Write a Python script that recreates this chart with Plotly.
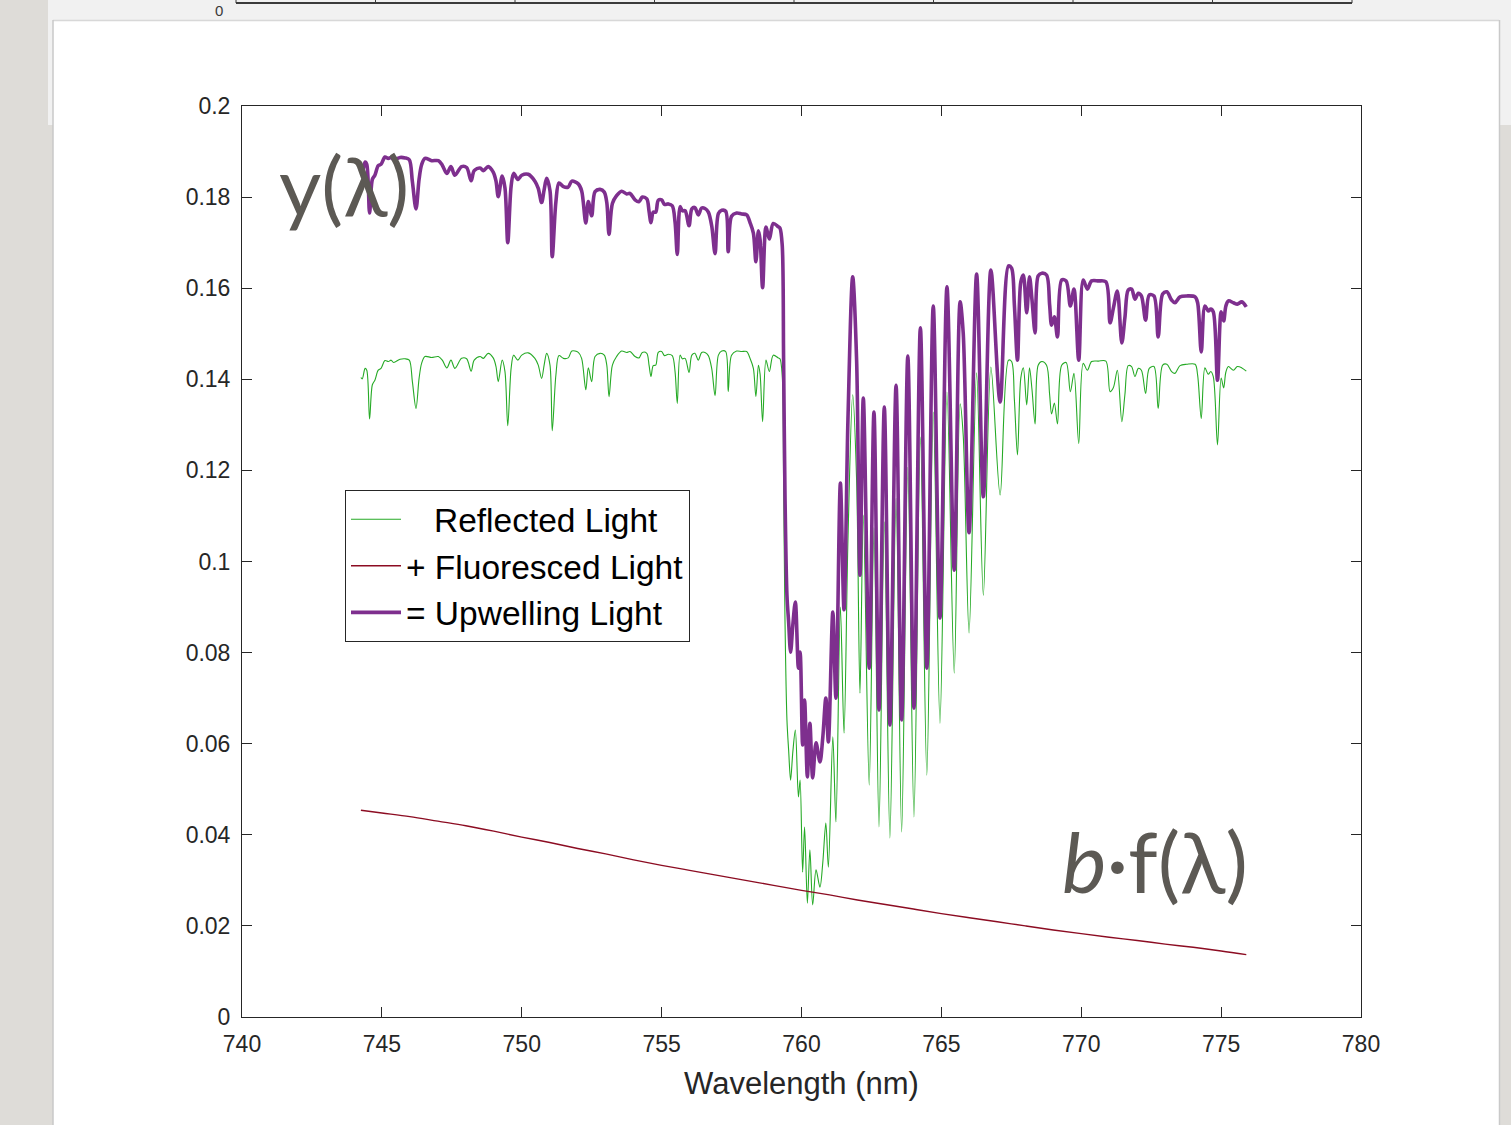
import plotly.graph_objects as go

# ---------------- data ----------------
wavelength_nm = [
    744.25, 744.30, 744.40, 744.46, 744.56, 744.66, 744.75, 744.87, 744.97, 745.11,
    745.23, 745.33, 745.42, 745.65, 745.83, 745.98, 746.09, 746.22, 746.33, 746.42,
    746.54, 746.78, 747.02, 747.16, 747.32, 747.47, 747.61, 747.85, 748.03, 748.19,
    748.30, 748.51, 748.63, 748.80, 748.98, 749.08, 749.16, 749.30, 749.40, 749.50,
    749.62, 749.71, 749.86, 750.00, 750.23, 750.47, 750.59, 750.71, 750.80, 750.89,
    751.01, 751.09, 751.22, 751.33, 751.49, 751.66, 751.79, 752.02, 752.14, 752.29,
    752.38, 752.50, 752.62, 752.80, 752.95, 753.04, 753.12, 753.24, 753.39, 753.57,
    753.75, 753.87, 754.05, 754.19, 754.31, 754.47, 754.55, 754.62, 754.70, 754.79,
    754.88, 755.00, 755.10, 755.24, 755.38, 755.48, 755.56, 755.66, 755.74, 755.84,
    755.98, 756.08, 756.19, 756.31, 756.43, 756.55, 756.67, 756.79, 756.91, 757.03,
    757.15, 757.29, 757.38, 757.50, 757.68, 757.86, 758.04, 758.16, 758.28, 758.37,
    758.46, 758.52, 758.61, 758.73, 758.85, 758.99, 759.17, 759.23,
    759.31, 759.36, 759.41, 759.48, 759.54, 759.61, 759.69, 759.78, 759.89, 759.95,
    760.04, 760.11, 760.21, 760.30, 760.40, 760.52, 760.66, 760.76, 760.87, 760.96,
    761.12, 761.23, 761.39, 761.52, 761.66, 761.83, 761.97, 762.09, 762.21, 762.42,
    762.59, 762.77, 762.96, 763.16, 763.38, 763.58, 763.80, 764.02, 764.25, 764.48,
    764.71, 764.95, 765.20, 765.46, 765.67, 765.78, 765.99, 766.26, 766.50, 766.77,
    767.10, 767.40,
    767.51, 767.61, 767.72, 767.84, 767.93, 768.05, 768.15, 768.24, 768.35, 768.46,
    768.59, 768.76, 768.87, 768.94, 769.04, 769.15, 769.30, 769.46, 769.61, 769.74,
    769.91, 770.07, 770.22, 770.37, 770.61, 770.88, 771.03, 771.15, 771.29, 771.45,
    771.56, 771.68, 771.80, 771.92, 772.04, 772.15, 772.30, 772.43, 772.60, 772.75,
    772.91, 773.06, 773.23, 773.35, 773.53, 773.77, 774.07, 774.16, 774.29, 774.42,
    774.54, 774.63, 774.72, 774.87, 775.00, 775.09, 775.17, 775.26, 775.44, 775.58,
    775.74, 775.90,
]

reflected = [
    0.1404, 0.1401, 0.1424, 0.1420, 0.1313, 0.1388, 0.1398, 0.1420, 0.1424, 0.1441,
    0.1439, 0.1442, 0.1437, 0.1444, 0.1445, 0.1442, 0.1395, 0.1336, 0.1402, 0.1435,
    0.1450, 0.1448, 0.1450, 0.1442, 0.1425, 0.1442, 0.1424, 0.1446, 0.1445, 0.1418,
    0.1442, 0.1450, 0.1446, 0.1457, 0.1447, 0.1428, 0.1395, 0.1442, 0.1417, 0.1298,
    0.1424, 0.1453, 0.1442, 0.1453, 0.1458, 0.1446, 0.1431, 0.1402, 0.1431, 0.1457,
    0.1431, 0.1287, 0.1409, 0.1452, 0.1446, 0.1447, 0.1462, 0.1459, 0.1446, 0.1377,
    0.1425, 0.1395, 0.1450, 0.1457, 0.1453, 0.1431, 0.1362, 0.1431, 0.1450, 0.1462,
    0.1459, 0.1461, 0.1450, 0.1447, 0.1459, 0.1457, 0.1431, 0.1406, 0.1430, 0.1431,
    0.1459, 0.1461, 0.1452, 0.1455, 0.1452, 0.1417, 0.1347, 0.1453, 0.1445, 0.1446,
    0.1415, 0.1453, 0.1457, 0.1442, 0.1459, 0.1459, 0.1452, 0.1424, 0.1364, 0.1453,
    0.1462, 0.1461, 0.1373, 0.1453, 0.1462, 0.1461, 0.1461, 0.1446, 0.1424, 0.1362,
    0.1431, 0.1411, 0.1307, 0.1442, 0.1417, 0.1453, 0.1447, 0.1445,
    0.1409, 0.1179, 0.0872, 0.0652, 0.0586, 0.0520, 0.0582, 0.0630, 0.0483, 0.0520,
    0.0318, 0.0417, 0.0250, 0.0367, 0.0246, 0.0323, 0.0285, 0.0338, 0.0426, 0.0329,
    0.0615, 0.0428, 0.0900, 0.0623, 0.1047, 0.1366, 0.1179, 0.0711, 0.1102, 0.0509,
    0.1074, 0.0417, 0.1087, 0.0393, 0.1139, 0.0406, 0.1207, 0.0439, 0.1273, 0.0531,
    0.1328, 0.0645, 0.1372, 0.0755, 0.1346, 0.1278, 0.0843, 0.1414, 0.0926, 0.1427,
    0.1146, 0.1442,
    0.1439, 0.1355, 0.1234, 0.1403, 0.1425, 0.1344, 0.1425, 0.1377, 0.1302, 0.1431,
    0.1439, 0.1431, 0.1366, 0.1324, 0.1348, 0.1302, 0.1431, 0.1437, 0.1373, 0.1413,
    0.1259, 0.1435, 0.1420, 0.1439, 0.1440, 0.1440, 0.1373, 0.1382, 0.1420, 0.1307,
    0.1366, 0.1430, 0.1428, 0.1406, 0.1424, 0.1420, 0.1369, 0.1424, 0.1428, 0.1336,
    0.1431, 0.1433, 0.1417, 0.1413, 0.1430, 0.1433, 0.1433, 0.1409, 0.1314, 0.1425,
    0.1411, 0.1417, 0.1406, 0.1256, 0.1403, 0.1381, 0.1416, 0.1428, 0.1420, 0.1428,
    0.1425, 0.1418,
]

upwelling = [
    0.1858, 0.1855, 0.1877, 0.1872, 0.1765, 0.1839, 0.1848, 0.1869, 0.1872, 0.1888,
    0.1885, 0.1887, 0.1882, 0.1887, 0.1886, 0.1882, 0.1834, 0.1774, 0.1839, 0.1871,
    0.1885, 0.1880, 0.1880, 0.1870, 0.1852, 0.1867, 0.1848, 0.1867, 0.1865, 0.1836,
    0.1858, 0.1864, 0.1858, 0.1867, 0.1855, 0.1835, 0.1801, 0.1846, 0.1820, 0.1700,
    0.1824, 0.1852, 0.1839, 0.1848, 0.1850, 0.1835, 0.1819, 0.1788, 0.1816, 0.1841,
    0.1814, 0.1669, 0.1789, 0.1831, 0.1823, 0.1822, 0.1835, 0.1829, 0.1814, 0.1743,
    0.1790, 0.1759, 0.1812, 0.1817, 0.1811, 0.1788, 0.1718, 0.1786, 0.1803, 0.1813,
    0.1807, 0.1808, 0.1794, 0.1790, 0.1800, 0.1796, 0.1769, 0.1744, 0.1767, 0.1767,
    0.1793, 0.1794, 0.1784, 0.1785, 0.1781, 0.1745, 0.1674, 0.1779, 0.1770, 0.1770,
    0.1737, 0.1774, 0.1777, 0.1761, 0.1776, 0.1775, 0.1767, 0.1737, 0.1676, 0.1764,
    0.1771, 0.1769, 0.1680, 0.1758, 0.1765, 0.1763, 0.1761, 0.1744, 0.1721, 0.1658,
    0.1726, 0.1706, 0.1601, 0.1734, 0.1708, 0.1742, 0.1735, 0.1732,
    0.1695, 0.1442, 0.1146, 0.0926, 0.0867, 0.0801, 0.0861, 0.0911, 0.0766, 0.0801,
    0.0597, 0.0696, 0.0527, 0.0645, 0.0525, 0.0602, 0.0560, 0.0613, 0.0700, 0.0604,
    0.0889, 0.0700, 0.1172, 0.0894, 0.1311, 0.1625, 0.1442, 0.0970, 0.1359, 0.0766,
    0.1328, 0.0674, 0.1339, 0.0641, 0.1387, 0.0652, 0.1451, 0.0678, 0.1513, 0.0766,
    0.1561, 0.0876, 0.1603, 0.0981, 0.1570, 0.1502, 0.1063, 0.1631, 0.1142, 0.1640,
    0.1350, 0.1649,
    0.1644, 0.1563, 0.1442, 0.1614, 0.1629, 0.1546, 0.1625, 0.1574, 0.1502, 0.1627,
    0.1633, 0.1629, 0.1563, 0.1519, 0.1537, 0.1493, 0.1618, 0.1616, 0.1561, 0.1598,
    0.1442, 0.1618, 0.1598, 0.1616, 0.1616, 0.1614, 0.1524, 0.1557, 0.1594, 0.1480,
    0.1535, 0.1596, 0.1598, 0.1576, 0.1589, 0.1583, 0.1530, 0.1585, 0.1583, 0.1493,
    0.1587, 0.1592, 0.1574, 0.1568, 0.1581, 0.1583, 0.1581, 0.1568, 0.1460, 0.1561,
    0.1550, 0.1554, 0.1548, 0.1398, 0.1548, 0.1528, 0.1561, 0.1572, 0.1568, 0.1565,
    0.1570, 0.1559,
]

fluor_wavelength_nm = [744.25, 745, 746, 747, 748, 749, 750, 751, 752, 753, 754, 755,
                       756, 757, 758, 759, 760, 761, 762, 763, 764, 765, 766, 767,
                       768, 769, 770, 771, 772, 773, 774, 775, 775.9]
fluoresced = [0.0454, 0.0448, 0.0440, 0.0430, 0.0420, 0.0408, 0.0395, 0.0383, 0.0370,
              0.0358, 0.0345, 0.0333, 0.0322, 0.0311, 0.0300, 0.0289, 0.0278, 0.0268,
              0.0257, 0.0247, 0.0237, 0.0227, 0.0218, 0.0209, 0.0200, 0.0191, 0.0183,
              0.0175, 0.0168, 0.0160, 0.0153, 0.0145, 0.0137]

legend_names = ["\u2007\u00a0Reflected Light", "+ Fluoresced Light", "= Upwelling Light"]
x_ticks = [740, 745, 750, 755, 760, 765, 770, 775, 780]

# ---------------- layout geometry (pixels) ----------------
W, H = 1511, 1125
L, R, T, B = 242, 1361, 106, 1017


def fx(px):
    return (px - L) / (R - L)


def fy(py):
    return (B - py) / (B - T)


GREEN = "#26aa26"
MAROON = "#8c0c22"
PURPLE = "#7e2f8e"
AXIS = "#262626"
FONT = "Liberation Sans, Arial, sans-serif"

fig = go.Figure()
fig.add_trace(go.Scatter(x=wavelength_nm, y=reflected, mode="lines", name=legend_names[0],
                         line=dict(color=GREEN, width=1.1, shape="spline", smoothing=0.9)))
fig.add_trace(go.Scatter(x=fluor_wavelength_nm, y=fluoresced, mode="lines", name=legend_names[1],
                         line=dict(color=MAROON, width=1.4, shape="spline")))
fig.add_trace(go.Scatter(x=wavelength_nm, y=upwelling, mode="lines", name=legend_names[2],
                         line=dict(color=PURPLE, width=3.6, shape="spline", smoothing=0.9)))

shapes = [
    # back slide peeking out at the top
    dict(type="rect", xref="paper", yref="paper", x0=fx(48), x1=fx(1511), y0=fy(-5), y1=fy(125),
         fillcolor="#f1f1f1", line=dict(width=0), layer="below"),
    dict(type="line", xref="paper", yref="paper", x0=fx(236), x1=fx(1352), y0=fy(3), y1=fy(3),
         line=dict(color="#3a3a3a", width=2), layer="below"),
    # front card
    dict(type="rect", xref="paper", yref="paper", x0=fx(53), x1=fx(1499), y0=fy(20), y1=fy(1130),
         fillcolor="#ffffff", line=dict(width=0), layer="below"),
    dict(type="line", xref="paper", yref="paper", x0=fx(53), x1=fx(1499), y0=fy(20.5), y1=fy(20.5),
         line=dict(color="#d8d8d8", width=1.5), layer="below"),
    dict(type="line", xref="paper", yref="paper", x0=fx(1499.5), x1=fx(1499.5), y0=fy(20), y1=fy(1130),
         line=dict(color="#c9c9c9", width=1.5), layer="below"),
    dict(type="line", xref="paper", yref="paper", x0=fx(53), x1=fx(53), y0=fy(20), y1=fy(1130),
         line=dict(color="#c9c9c9", width=1.5), layer="below"),
]
for k in range(9):
    xx = 236 + k * (1352 - 236) / 8
    shapes.append(dict(type="line", xref="paper", yref="paper", x0=fx(xx), x1=fx(xx),
                       y0=fy(3), y1=fy(-5), line=dict(color="#3a3a3a", width=1), layer="below"))

annotations = [
    dict(text="y(λ)", xref="paper", yref="paper", x=fx(344), y=fy(184), xanchor="center",
         yanchor="middle", showarrow=False, font=dict(family="Lato, Open Sans, sans-serif",
                                                       size=82, color="#5c5954")),
    dict(text="<i>b</i>·f(λ)", xref="paper", yref="paper", x=fx(1155), y=fy(860),
         xanchor="center", yanchor="middle", showarrow=False,
         font=dict(family="Lato, Open Sans, sans-serif", size=84, color="#5c5954")),
    dict(text="0", xref="paper", yref="paper", x=fx(219), y=fy(10), xanchor="center",
         yanchor="middle", showarrow=False, font=dict(family=FONT, size=15, color="#3a3a3a")),
]

fig.update_layout(
    width=W, height=H,
    margin=dict(l=L, r=W - R, t=T, b=H - B, pad=0),
    paper_bgcolor="#dedcd8",
    plot_bgcolor="#ffffff",
    showlegend=True,
    legend=dict(x=fx(345), y=fy(490), xanchor="left", yanchor="top",
                bgcolor="#ffffff", bordercolor=AXIS, borderwidth=1,
                font=dict(family=FONT, size=33.5, color="#000000"),
                tracegroupgap=0, itemwidth=50),
    shapes=shapes,
    annotations=annotations,
    xaxis=dict(range=[740, 780], tickvals=x_ticks, ticks="inside", ticklen=10, tickwidth=1,
               tickcolor=AXIS, showline=True, linecolor=AXIS, linewidth=1, mirror="allticks",
               showgrid=False, zeroline=False, ticklabelstandoff=6,
               tickfont=dict(family=FONT, size=23, color=AXIS),
               title=dict(text="Wavelength (nm)", font=dict(family=FONT, size=31, color=AXIS),
                          standoff=16)),
    yaxis=dict(range=[0, 0.2], dtick=0.02, tick0=0, ticks="inside", ticklen=10, tickwidth=1,
               tickcolor=AXIS, showline=True, linecolor=AXIS, linewidth=1, mirror="allticks",
               showgrid=False, zeroline=False, ticklabelstandoff=6,
               tickfont=dict(family=FONT, size=23, color=AXIS)),
)

fig.write_html("out.html")
